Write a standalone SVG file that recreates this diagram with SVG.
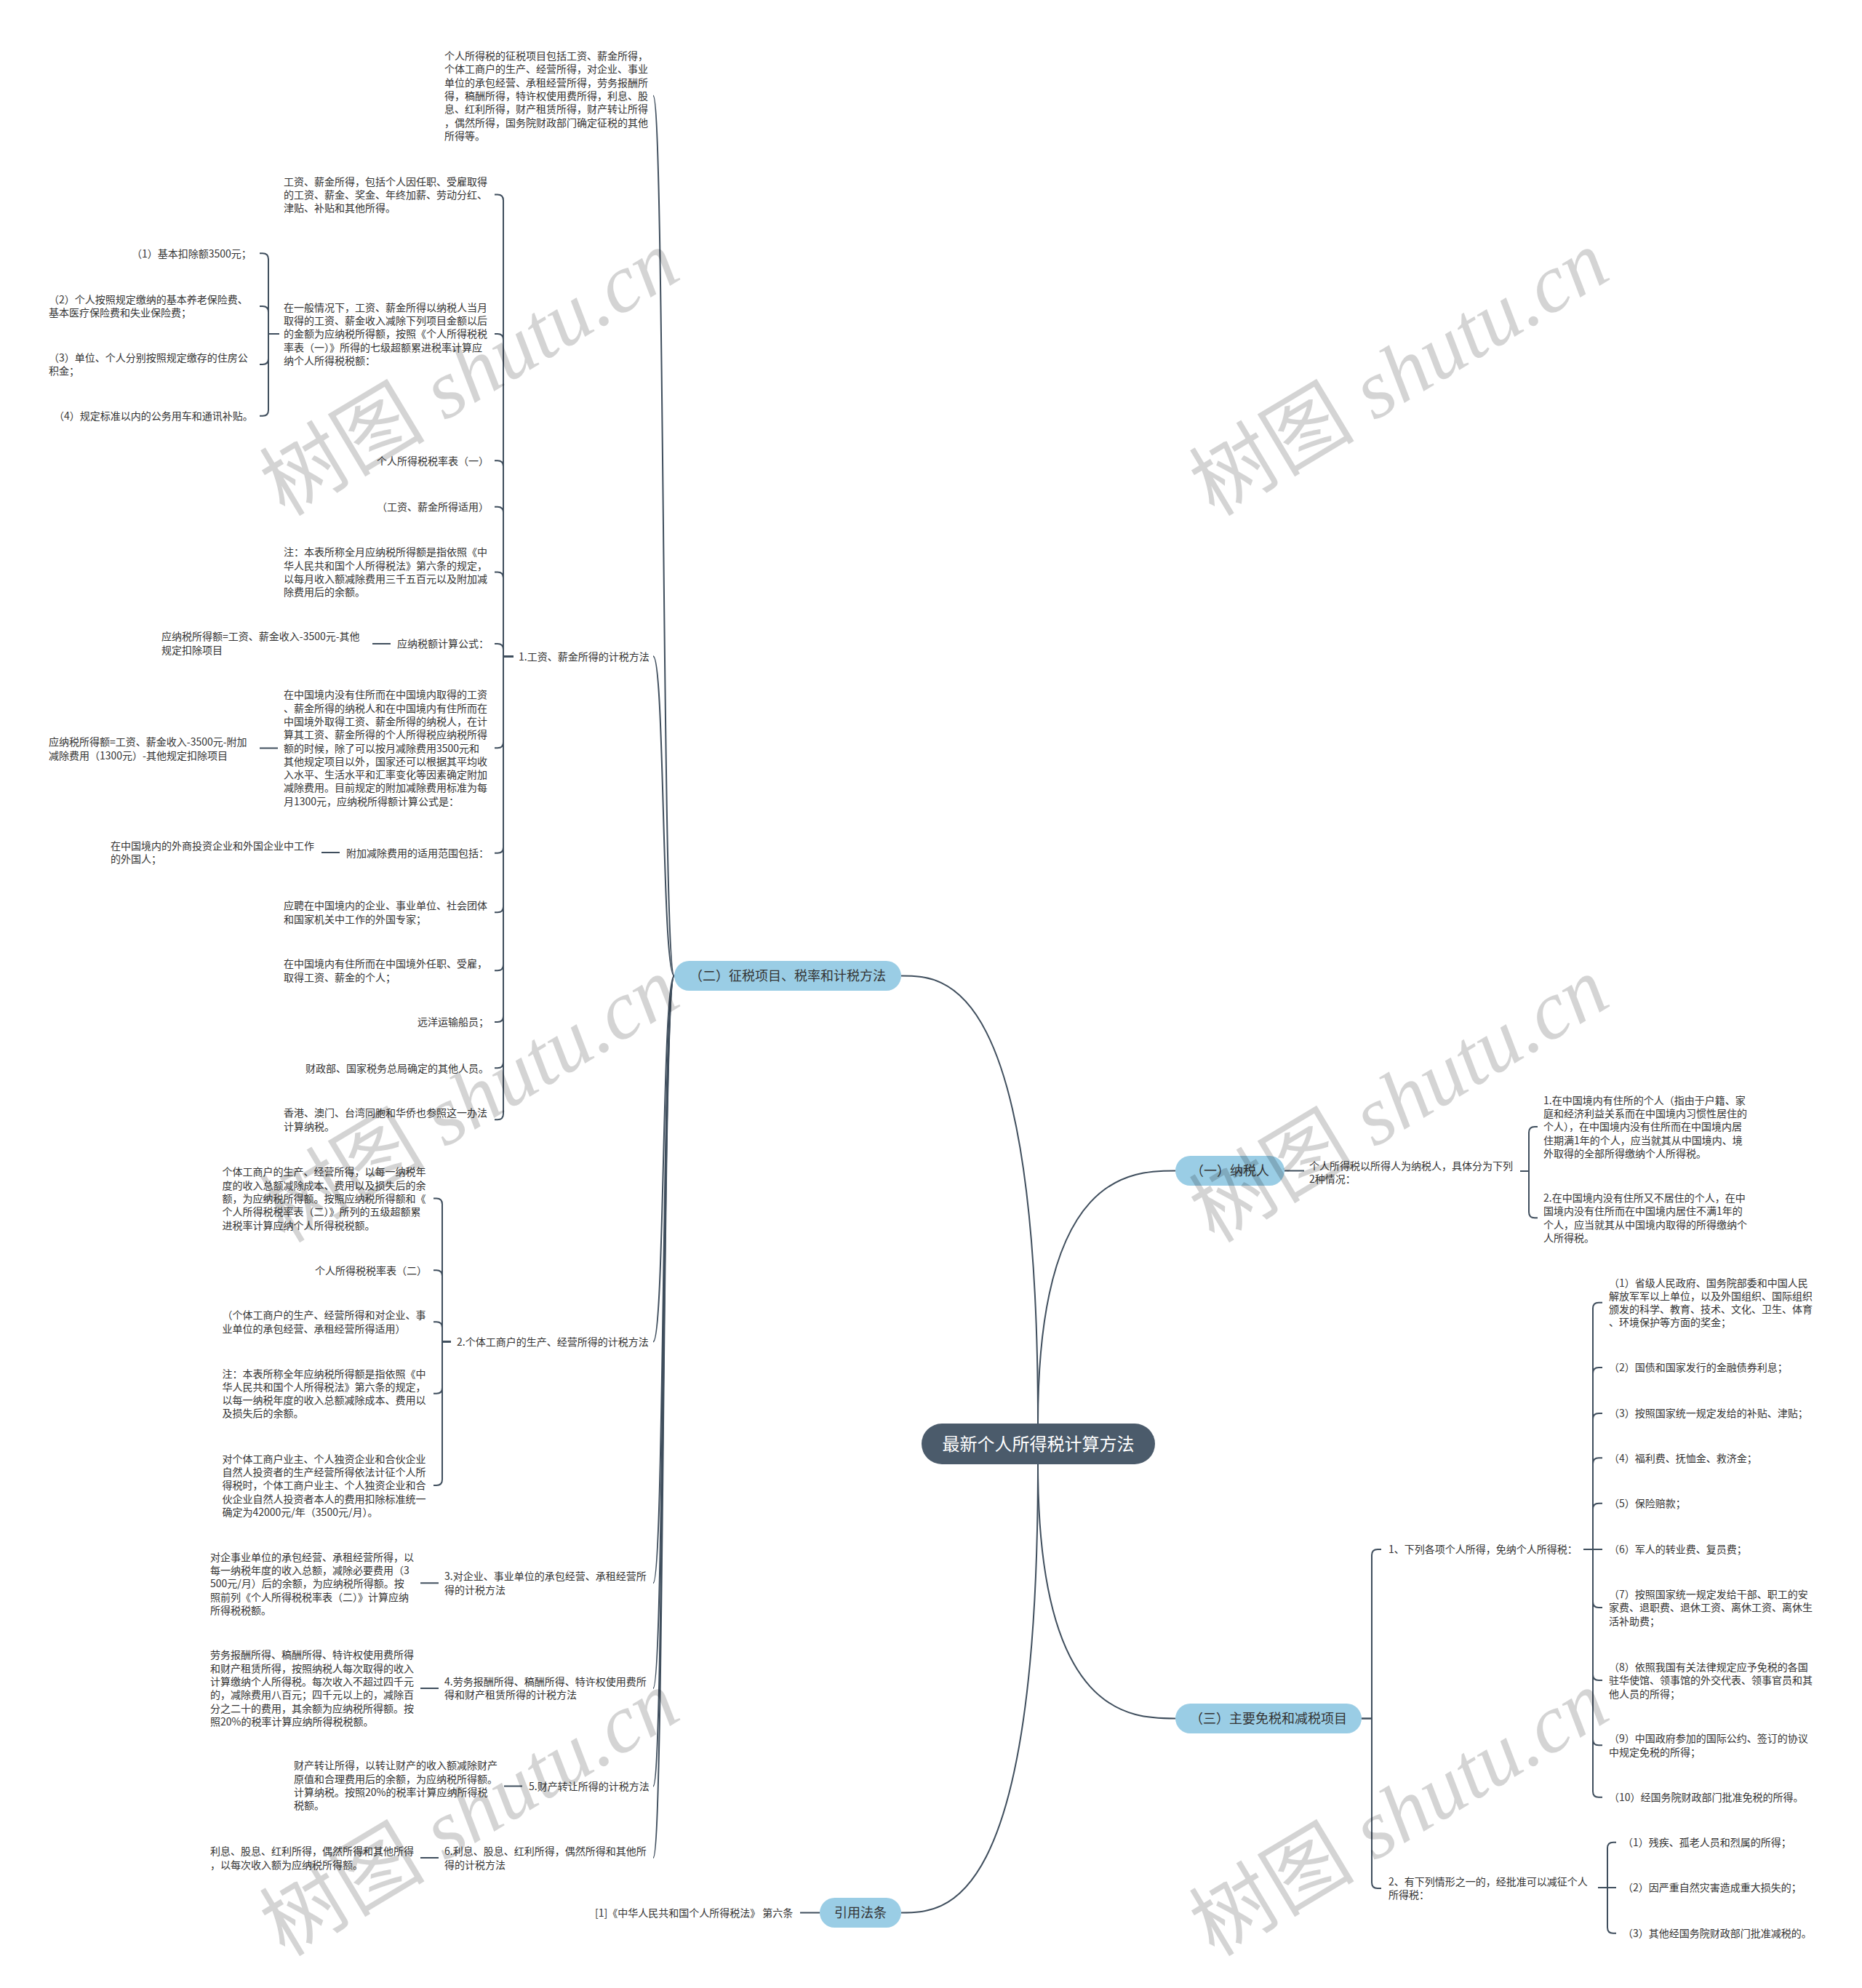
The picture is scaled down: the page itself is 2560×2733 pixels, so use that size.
<svg xmlns="http://www.w3.org/2000/svg" width="2560" height="2733" viewBox="0 0 2560 2733">
<style>
text { font-family: "Noto Sans CJK SC", "Noto Sans", sans-serif; }
.t { font-size: 14px; fill: #333; }
.e { text-anchor: end; }
.l2t { font-size: 18px; fill: #333; text-anchor: middle; }
.rt { font-size: 24px; fill: #fff; text-anchor: middle; }
.l2 { fill: #9acde5; }
.root { fill: #4b5b6b; }
.c { fill: none; stroke: #3f4e5d; stroke-width: 2; }
.wm { font-size: 114px; fill: #000; fill-opacity: 0.17; text-anchor: middle; }
.wm .cn { font-family: "Noto Sans CJK SC", sans-serif; }
.wm .lat { font-family: "Liberation Serif", serif; font-style: italic; }
</style>
<rect x="0" y="0" width="2560" height="2733" fill="#fff"/>

<g id="connectors">
  <path class="c" d="M1427,1957 C1427,1342 1300,1341.5 1239,1341.5"/>
  <path class="c" d="M1427,1957 C1427,1609.5 1556,1609.5 1616,1609.5"/>
  <path class="c" d="M1427,2013 C1427,2362.5 1556,2362.5 1616,2362.5"/>
  <path class="c" d="M1427,2013 C1427,2629.5 1300,2629.5 1239,2629.5"/>
  <path class="c" d="M927,1341.5 C910,1341.5 914,131.6 898,131.6"/>
  <path class="c" d="M927,1341.5 C910,1341.5 914,902.3 898,902.3"/>
  <path class="c" d="M927,1341.5 C910,1341.5 914,1844.5 898,1844.5"/>
  <path class="c" d="M927,1341.5 C910,1341.5 914,2176.3 898,2176.3"/>
  <path class="c" d="M927,1341.5 C910,1341.5 914,2321 898,2321"/>
  <path class="c" d="M927,1341.5 C910,1341.5 914,2455.7 898,2455.7"/>
  <path class="c" d="M927,1341.5 C910,1341.5 914,2554.2 898,2554.2"/>
  <path class="c" d="M706,902.3 H692 V275.6 Q692,267.6 684,267.6 H680"/>
  <path class="c" d="M706,902.3 H692 V466.9 Q692,458.9 684,458.9 H680"/>
  <path class="c" d="M706,902.3 H692 V641.3 Q692,633.3 684,633.3 H680"/>
  <path class="c" d="M706,902.3 H692 V704.7 Q692,696.7 684,696.7 H680"/>
  <path class="c" d="M706,902.3 H692 V794.5 Q692,786.5 684,786.5 H680"/>
  <path class="c" d="M706,902.3 H692 V893 Q692,885 684,885 H680"/>
  <path class="c" d="M706,902.3 H692 V1020.2 Q692,1028.2 684,1028.2 H680"/>
  <path class="c" d="M706,902.3 H692 V1164.7 Q692,1172.7 684,1172.7 H680"/>
  <path class="c" d="M706,902.3 H692 V1246.2 Q692,1254.2 684,1254.2 H680"/>
  <path class="c" d="M706,902.3 H692 V1326.2 Q692,1334.2 684,1334.2 H680"/>
  <path class="c" d="M706,902.3 H692 V1397 Q692,1405 684,1405 H680"/>
  <path class="c" d="M706,902.3 H692 V1460.3 Q692,1468.3 684,1468.3 H680"/>
  <path class="c" d="M706,902.3 H692 V1531.2 Q692,1539.2 684,1539.2 H680"/>
  <path class="c" d="M384,458.9 H369 V356.3 Q369,348.3 361,348.3 H357"/>
  <path class="c" d="M384,458.9 H369 V428.9 Q369,420.9 361,420.9 H357"/>
  <path class="c" d="M384,458.9 H369 V492.9 Q369,500.9 361,500.9 H357"/>
  <path class="c" d="M384,458.9 H369 V563.7 Q369,571.7 361,571.7 H357"/>
  <path class="c" d="M537,885 H512"/>
  <path class="c" d="M382,1028.5 H357"/>
  <path class="c" d="M467,1172 H442"/>
  <path class="c" d="M603,2176.3 H578"/>
  <path class="c" d="M603,2321 H578"/>
  <path class="c" d="M718,2455.5 H693"/>
  <path class="c" d="M603,2554 H578"/>
  <path class="c" d="M1127,2629.5 H1100"/>
  <path class="c" d="M1766,1609.5 H1793"/>
  <path class="c" d="M620,1844.5 H608 V1655.6 Q608,1647.6 600,1647.6 H596"/>
  <path class="c" d="M620,1844.5 H608 V1754.3 Q608,1746.3 600,1746.3 H596"/>
  <path class="c" d="M620,1844.5 H608 V1825.2 Q608,1817.2 600,1817.2 H596"/>
  <path class="c" d="M620,1844.5 H608 V1907.7 Q608,1915.7 600,1915.7 H596"/>
  <path class="c" d="M620,1844.5 H608 V2033.9 Q608,2041.9 600,2041.9 H596"/>
  <path class="c" d="M2090,1610 H2102 V1556.9 Q2102,1548.9 2110,1548.9 H2114"/>
  <path class="c" d="M2090,1610 H2102 V1666.2 Q2102,1674.2 2110,1674.2 H2114"/>
  <path class="c" d="M1872,2362.5 H1886 V2138 Q1886,2130 1894,2130 H1899"/>
  <path class="c" d="M1872,2362.5 H1886 V2588 Q1886,2596 1894,2596 H1899"/>
  <path class="c" d="M2177,2130 H2190 V1798.7 Q2190,1790.7 2198,1790.7 H2203"/>
  <path class="c" d="M2177,2130 H2190 V1888 Q2190,1880 2198,1880 H2203"/>
  <path class="c" d="M2177,2130 H2190 V1950.9 Q2190,1942.9 2198,1942.9 H2203"/>
  <path class="c" d="M2177,2130 H2190 V2012.3 Q2190,2004.3 2198,2004.3 H2203"/>
  <path class="c" d="M2177,2130 H2190 V2074.8 Q2190,2066.8 2198,2066.8 H2203"/>
  <path class="c" d="M2177,2130 H2203"/>
  <path class="c" d="M2177,2130 H2190 V2202.1 Q2190,2210.1 2198,2210.1 H2203"/>
  <path class="c" d="M2177,2130 H2190 V2302 Q2190,2310 2198,2310 H2203"/>
  <path class="c" d="M2177,2130 H2190 V2391.2 Q2190,2399.2 2198,2399.2 H2203"/>
  <path class="c" d="M2177,2130 H2190 V2462.7 Q2190,2470.7 2198,2470.7 H2203"/>
  <path class="c" d="M2197,2595 H2210 V2540.7 Q2210,2532.7 2218,2532.7 H2222"/>
  <path class="c" d="M2197,2595 H2222"/>
  <path class="c" d="M2197,2595 H2210 V2649.7 Q2210,2657.7 2218,2657.7 H2222"/>
</g>

<g id="n-root">
  <rect class="root" x="1267" y="1957" width="321" height="56" rx="28"/>
  <text class="rt" x="1427.5" y="1994">最新个人所得税计算方法</text>
</g>
<g id="n-2">
  <rect class="l2" x="927" y="1321" width="312" height="41" rx="20.5"/>
  <text class="l2t" x="1083" y="1348">（二）征税项目、税率和计税方法</text>
</g>
<g id="n-1">
  <rect class="l2" x="1616" y="1589" width="150" height="41" rx="20.5"/>
  <text class="l2t" x="1691" y="1616">（一）纳税人</text>
</g>
<g id="n-3">
  <rect class="l2" x="1616" y="2342" width="256" height="41" rx="20.5"/>
  <text class="l2t" x="1744" y="2369">（三）主要免税和减税项目</text>
</g>
<g id="n-ref">
  <rect class="l2" x="1127" y="2609" width="112" height="41" rx="20.5"/>
  <text class="l2t" x="1183" y="2636">引用法条</text>
</g>

<g id="n-items">
  <text class="t" x="611" y="82"><tspan x="611">个人所得税的征税项目包括工资、薪金所得，</tspan><tspan x="611" dy="18.3">个体工商户的生产、经营所得，对企业、事业</tspan><tspan x="611" dy="18.3">单位的承包经营、承租经营所得，劳务报酬所</tspan><tspan x="611" dy="18.3">得，稿酬所得，特许权使用费所得，利息、股</tspan><tspan x="611" dy="18.3">息、红利所得，财产租赁所得，财产转让所得</tspan><tspan x="611" dy="18.3">，偶然所得，国务院财政部门确定征税的其他</tspan><tspan x="611" dy="18.3">所得等。</tspan></text>
</g>

<g id="n-m1">
  <text class="t" x="713" y="907.6">1.工资、薪金所得的计税方法</text>
</g>
<g id="n-m1a">
  <text class="t" y="254.6"><tspan x="390">工资、薪金所得，包括个人因任职、受雇取得</tspan><tspan x="390" dy="18.3">的工资、薪金、奖金、年终加薪、劳动分红、</tspan><tspan x="390" dy="18.3">津贴、补贴和其他所得。</tspan></text>
</g>
<g id="n-m1b">
  <text class="t" y="427.6"><tspan x="390">在一般情况下，工资、薪金所得以纳税人当月</tspan><tspan x="390" dy="18.3">取得的工资、薪金收入减除下列项目金额以后</tspan><tspan x="390" dy="18.3">的金额为应纳税所得额，按照《个人所得税税</tspan><tspan x="390" dy="18.3">率表（一）》所得的七级超额累进税率计算应</tspan><tspan x="390" dy="18.3">纳个人所得税税额：</tspan></text>
</g>
<g id="n-m1b1"><text class="t" x="181" y="353.6">（1）基本扣除额3500元；</text></g>
<g id="n-m1b2"><text class="t" y="417"><tspan x="67">（2）个人按照规定缴纳的基本养老保险费、</tspan><tspan x="67" dy="18.3">基本医疗保险费和失业保险费；</tspan></text></g>
<g id="n-m1b3"><text class="t" y="497"><tspan x="67">（3）单位、个人分别按照规定缴存的住房公</tspan><tspan x="67" dy="18.3">积金；</tspan></text></g>
<g id="n-m1b4"><text class="t" x="74" y="577">（4）规定标准以内的公务用车和通讯补贴。</text></g>
<g id="n-m1c"><text class="t e" x="672" y="638.6">个人所得税税率表（一）</text></g>
<g id="n-m1d"><text class="t e" x="672" y="702">（工资、薪金所得适用）</text></g>
<g id="n-m1e">
  <text class="t" y="764.3"><tspan x="390">注：本表所称全月应纳税所得额是指依照《中</tspan><tspan x="390" dy="18.3">华人民共和国个人所得税法》第六条的规定，</tspan><tspan x="390" dy="18.3">以每月收入额减除费用三千五百元以及附加减</tspan><tspan x="390" dy="18.3">除费用后的余额。</tspan></text>
</g>
<g id="n-m1f"><text class="t e" x="672" y="890.3">应纳税额计算公式：</text></g>
<g id="n-m1f1"><text class="t" y="880.3"><tspan x="222">应纳税所得额=工资、薪金收入-3500元-其他</tspan><tspan x="222" dy="18.3">规定扣除项目</tspan></text></g>
<g id="n-m1g">
  <text class="t" y="960.3"><tspan x="390">在中国境内没有住所而在中国境内取得的工资</tspan><tspan x="390" dy="18.3">、薪金所得的纳税人和在中国境内有住所而在</tspan><tspan x="390" dy="18.3">中国境外取得工资、薪金所得的纳税人，在计</tspan><tspan x="390" dy="18.3">算其工资、薪金所得的个人所得税应纳税所得</tspan><tspan x="390" dy="18.3">额的时候，除了可以按月减除费用3500元和</tspan><tspan x="390" dy="18.3">其他规定项目以外，国家还可以根据其平均收</tspan><tspan x="390" dy="18.3">入水平、生活水平和汇率变化等因素确定附加</tspan><tspan x="390" dy="18.3">减除费用。目前规定的附加减除费用标准为每</tspan><tspan x="390" dy="18.3">月1300元，应纳税所得额计算公式是：</tspan></text>
</g>
<g id="n-m1g1"><text class="t" y="1025.3"><tspan x="67">应纳税所得额=工资、薪金收入-3500元-附加</tspan><tspan x="67" dy="18.3">减除费用（1300元）-其他规定扣除项目</tspan></text></g>
<g id="n-m1h"><text class="t e" x="672" y="1178">附加减除费用的适用范围包括：</text></g>
<g id="n-m1h1"><text class="t" y="1167.6"><tspan x="152">在中国境内的外商投资企业和外国企业中工作</tspan><tspan x="152" dy="18.3">的外国人；</tspan></text></g>
<g id="n-m1i"><text class="t" y="1250.3"><tspan x="390">应聘在中国境内的企业、事业单位、社会团体</tspan><tspan x="390" dy="18.3">和国家机关中工作的外国专家；</tspan></text></g>
<g id="n-m1j"><text class="t" y="1330.3"><tspan x="390">在中国境内有住所而在中国境外任职、受雇，</tspan><tspan x="390" dy="18.3">取得工资、薪金的个人；</tspan></text></g>
<g id="n-m1k"><text class="t e" x="672" y="1410.3">远洋运输船员；</text></g>
<g id="n-m1l"><text class="t e" x="672" y="1473.6">财政部、国家税务总局确定的其他人员。</text></g>
<g id="n-m1m"><text class="t" y="1535.3"><tspan x="390">香港、澳门、台湾同胞和华侨也参照这一办法</tspan><tspan x="390" dy="18.3">计算纳税。</tspan></text></g>

<g id="n-m2"><text class="t" x="628" y="1849.8">2.个体工商户的生产、经营所得的计税方法</text></g>
<g id="n-m2a"><text class="t" y="1616.3"><tspan x="305.5">个体工商户的生产、经营所得，以每一纳税年</tspan><tspan x="305.5" dy="18.3">度的收入总额减除成本、费用以及损失后的余</tspan><tspan x="305.5" dy="18.3">额，为应纳税所得额。按照应纳税所得额和《</tspan><tspan x="305.5" dy="18.3">个人所得税税率表（二）》所列的五级超额累</tspan><tspan x="305.5" dy="18.3">进税率计算应纳个人所得税税额。</tspan></text></g>
<g id="n-m2b"><text class="t e" x="587" y="1751.6">个人所得税税率表（二）</text></g>
<g id="n-m2c"><text class="t" y="1813.3"><tspan x="305.5">（个体工商户的生产、经营所得和对企业、事</tspan><tspan x="305.5" dy="18.3">业单位的承包经营、承租经营所得适用）</tspan></text></g>
<g id="n-m2d"><text class="t" y="1893.5"><tspan x="305.5">注：本表所称全年应纳税所得额是指依照《中</tspan><tspan x="305.5" dy="18.3">华人民共和国个人所得税法》第六条的规定，</tspan><tspan x="305.5" dy="18.3">以每一纳税年度的收入总额减除成本、费用以</tspan><tspan x="305.5" dy="18.3">及损失后的余额。</tspan></text></g>
<g id="n-m2e"><text class="t" y="2010.6"><tspan x="305.5">对个体工商户业主、个人独资企业和合伙企业</tspan><tspan x="305.5" dy="18.3">自然人投资者的生产经营所得依法计征个人所</tspan><tspan x="305.5" dy="18.3">得税时，个体工商户业主、个人独资企业和合</tspan><tspan x="305.5" dy="18.3">伙企业自然人投资者本人的费用扣除标准统一</tspan><tspan x="305.5" dy="18.3">确定为42000元/年（3500元/月）。</tspan></text></g>

<g id="n-m3"><text class="t" y="2172.4"><tspan x="611">3.对企业、事业单位的承包经营、承租经营所</tspan><tspan x="611" dy="18.3">得的计税方法</tspan></text></g>
<g id="n-m3a"><text class="t" y="2145.7"><tspan x="289">对企事业单位的承包经营、承租经营所得，以</tspan><tspan x="289" dy="18.3">每一纳税年度的收入总额，减除必要费用（3</tspan><tspan x="289" dy="18.3">500元/月）后的余额，为应纳税所得额。按</tspan><tspan x="289" dy="18.3">照前列《个人所得税税率表（二）》计算应纳</tspan><tspan x="289" dy="18.3">所得税税额。</tspan></text></g>
<g id="n-m4"><text class="t" y="2317.1"><tspan x="611">4.劳务报酬所得、稿酬所得、特许权使用费所</tspan><tspan x="611" dy="18.3">得和财产租赁所得的计税方法</tspan></text></g>
<g id="n-m4a"><text class="t" y="2280.3"><tspan x="289">劳务报酬所得、稿酬所得、特许权使用费所得</tspan><tspan x="289" dy="18.3">和财产租赁所得，按照纳税人每次取得的收入</tspan><tspan x="289" dy="18.3">计算缴纳个人所得税。每次收入不超过四千元</tspan><tspan x="289" dy="18.3">的，减除费用八百元；四千元以上的，减除百</tspan><tspan x="289" dy="18.3">分之二十的费用，其余额为应纳税所得额。按</tspan><tspan x="289" dy="18.3">照20%的税率计算应纳所得税税额。</tspan></text></g>
<g id="n-m5"><text class="t" x="727" y="2461">5.财产转让所得的计税方法</text></g>
<g id="n-m5a"><text class="t" y="2432.3"><tspan x="404">财产转让所得，以转让财产的收入额减除财产</tspan><tspan x="404" dy="18.3">原值和合理费用后的余额，为应纳税所得额。</tspan><tspan x="404" dy="18.3">计算纳税。按照20%的税率计算应纳所得税</tspan><tspan x="404" dy="18.3">税额。</tspan></text></g>
<g id="n-m6"><text class="t" y="2550.3"><tspan x="611">6.利息、股息、红利所得，偶然所得和其他所</tspan><tspan x="611" dy="18.3">得的计税方法</tspan></text></g>
<g id="n-m6a"><text class="t" y="2550.3"><tspan x="289">利息、股息、红利所得，偶然所得和其他所得</tspan><tspan x="289" dy="18.3">，以每次收入额为应纳税所得额。</tspan></text></g>

<g id="n-ref1"><text class="t" x="818" y="2635.3">[1]《中华人民共和国个人所得税法》 第六条</text></g>

<g id="n-p1"><text class="t" y="1608"><tspan x="1800">个人所得税以所得人为纳税人，具体分为下列</tspan><tspan x="1800" dy="18.3">2种情况：</tspan></text></g>
<g id="n-p1a"><text class="t" y="1517.6"><tspan x="2122">1.在中国境内有住所的个人（指由于户籍、家</tspan><tspan x="2122" dy="18.3">庭和经济利益关系而在中国境内习惯性居住的</tspan><tspan x="2122" dy="18.3">个人），在中国境内没有住所而在中国境内居</tspan><tspan x="2122" dy="18.3">住期满1年的个人，应当就其从中国境内、境</tspan><tspan x="2122" dy="18.3">外取得的全部所得缴纳个人所得税。</tspan></text></g>
<g id="n-p1b"><text class="t" y="1652"><tspan x="2122">2.在中国境内没有住所又不居住的个人，在中</tspan><tspan x="2122" dy="18.3">国境内没有住所而在中国境内居住不满1年的</tspan><tspan x="2122" dy="18.3">个人，应当就其从中国境内取得的所得缴纳个</tspan><tspan x="2122" dy="18.3">人所得税。</tspan></text></g>

<g id="n-e1"><text class="t" x="1909" y="2135.3">1、下列各项个人所得，免纳个人所得税：</text></g>
<g id="n-e1-1"><text class="t" y="1768.5"><tspan x="2212">（1）省级人民政府、国务院部委和中国人民</tspan><tspan x="2212" dy="18.3">解放军军以上单位，以及外国组织、国际组织</tspan><tspan x="2212" dy="18.3">颁发的科学、教育、技术、文化、卫生、体育</tspan><tspan x="2212" dy="18.3">、环境保护等方面的奖金；</tspan></text></g>
<g id="n-e1-2"><text class="t" x="2212" y="1885.3">（2）国债和国家发行的金融债券利息；</text></g>
<g id="n-e1-3"><text class="t" x="2212" y="1948.2">（3）按照国家统一规定发给的补贴、津贴；</text></g>
<g id="n-e1-4"><text class="t" x="2212" y="2009.6">（4）福利费、抚恤金、救济金；</text></g>
<g id="n-e1-5"><text class="t" x="2212" y="2072.1">（5）保险赔款；</text></g>
<g id="n-e1-6"><text class="t" x="2212" y="2134.6">（6）军人的转业费、复员费；</text></g>
<g id="n-e1-7"><text class="t" y="2197.1"><tspan x="2212">（7）按照国家统一规定发给干部、职工的安</tspan><tspan x="2212" dy="18.3">家费、退职费、退休工资、离休工资、离休生</tspan><tspan x="2212" dy="18.3">活补助费；</tspan></text></g>
<g id="n-e1-8"><text class="t" y="2297"><tspan x="2212">（8）依照我国有关法律规定应予免税的各国</tspan><tspan x="2212" dy="18.3">驻华使馆、领事馆的外交代表、领事官员和其</tspan><tspan x="2212" dy="18.3">他人员的所得；</tspan></text></g>
<g id="n-e1-9"><text class="t" y="2395.3"><tspan x="2212">（9）中国政府参加的国际公约、签订的协议</tspan><tspan x="2212" dy="18.3">中规定免税的所得；</tspan></text></g>
<g id="n-e1-10"><text class="t" x="2212" y="2476">（10）经国务院财政部门批准免税的所得。</text></g>

<g id="n-e2"><text class="t" y="2592"><tspan x="1909">2、有下列情形之一的，经批准可以减征个人</tspan><tspan x="1909" dy="18.3">所得税：</tspan></text></g>
<g id="n-e2-1"><text class="t" x="2231" y="2538">（1）残疾、孤老人员和烈属的所得；</text></g>
<g id="n-e2-2"><text class="t" x="2231" y="2600.3">（2）因严重自然灾害造成重大损失的；</text></g>
<g id="n-e2-3"><text class="t" x="2231" y="2663">（3）其他经国务院财政部门批准减税的。</text></g>

<g id="watermarks">
  <text class="wm" transform="translate(645,512) rotate(-31)" y="40"><tspan class="cn">树图</tspan><tspan class="lat"> shutu.cn</tspan></text>
  <text class="wm" transform="translate(1923,512) rotate(-31)" y="40"><tspan class="cn">树图</tspan><tspan class="lat"> shutu.cn</tspan></text>
  <text class="wm" transform="translate(645,1511) rotate(-31)" y="40"><tspan class="cn">树图</tspan><tspan class="lat"> shutu.cn</tspan></text>
  <text class="wm" transform="translate(1923,1511) rotate(-31)" y="40"><tspan class="cn">树图</tspan><tspan class="lat"> shutu.cn</tspan></text>
  <text class="wm" transform="translate(645,2492) rotate(-31)" y="40"><tspan class="cn">树图</tspan><tspan class="lat"> shutu.cn</tspan></text>
  <text class="wm" transform="translate(1923,2492) rotate(-31)" y="40"><tspan class="cn">树图</tspan><tspan class="lat"> shutu.cn</tspan></text>
</g>
</svg>
